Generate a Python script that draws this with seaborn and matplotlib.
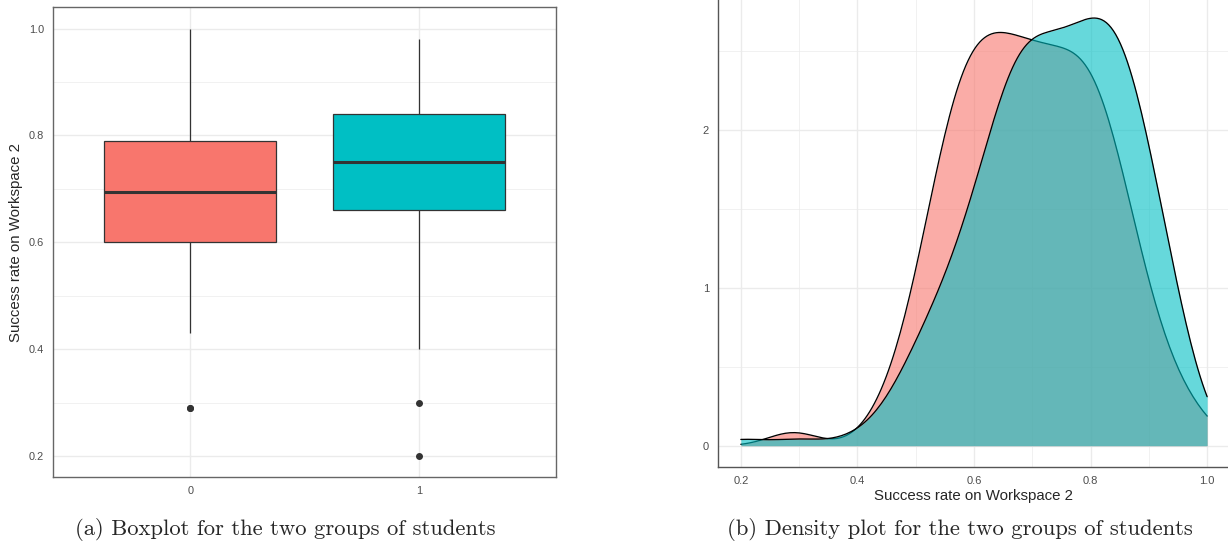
import numpy as np
import pandas as pd
import matplotlib
matplotlib.use("Agg")
import matplotlib.pyplot as plt
import seaborn as sns

# Success rate on Workspace 2, as a frequency table:
# one entry per observed score, with the number of students per group.
scores = [0.20, 0.29, 0.30,
          0.40, 0.41, 0.42, 0.43, 0.44, 0.45, 0.46, 0.47, 0.48, 0.49,
          0.50, 0.51, 0.52, 0.53, 0.54, 0.55, 0.56, 0.57, 0.58, 0.59,
          0.60, 0.61, 0.62, 0.63, 0.64, 0.65, 0.66, 0.67, 0.68, 0.69,
          0.70, 0.71, 0.72, 0.73, 0.74, 0.75, 0.76, 0.77, 0.78, 0.79,
          0.80, 0.81, 0.82, 0.83, 0.84, 0.85, 0.86, 0.87, 0.88, 0.89,
          0.90, 0.91, 0.92, 0.93, 0.94, 0.95, 0.96, 0.97, 0.98, 0.99,
          1.00]
count_0 = [0, 2, 0,
           0, 0, 0, 1, 0, 1, 1, 1, 1, 2,
           2, 3, 3, 4, 4, 5, 5, 6, 6, 6,
           6, 6, 6, 6, 6, 6, 6, 6, 5, 6,
           6, 6, 5, 6, 6, 5, 6, 5, 6, 6,
           6, 6, 5, 6, 4, 4, 4, 3, 3, 3,
           2, 1, 2, 1, 1, 1, 1, 0, 1, 0,
           1]
count_1 = [1, 0, 1,
           1, 0, 0, 0, 1, 0, 1, 1, 1, 2,
           1, 2, 2, 3, 2, 2, 3, 3, 3, 3,
           5, 4, 5, 5, 4, 4, 10, 6, 7, 7,
           6, 6, 7, 6, 6, 7, 6, 7, 6, 7,
           7, 6, 7, 7, 8, 7, 7, 7, 5, 5,
           5, 5, 3, 4, 2, 3, 2, 1, 1, 0,
           0]
groups = ["0", "1"]
colors = ["#F8766D", "#00BFC4"]
label = "Success rate on Workspace 2"

rate = np.concatenate([np.repeat(scores, count_0), np.repeat(scores, count_1)])
group = [groups[0]] * sum(count_0) + [groups[1]] * sum(count_1)
df = pd.DataFrame({"group": group, "rate": rate})

sns.set_style("white")
plt.rcParams["font.family"] = ["Liberation Sans", "DejaVu Sans"]

fig = plt.figure(figsize=(12.28, 5.42), dpi=100)
ax1 = fig.add_axes([0.0432, 0.1194, 0.4096, 0.8672])
ax2 = fig.add_axes([0.5843, 0.1378, 0.4177, 0.8747])

# (a) boxplot
sns.boxplot(data=df, x="group", y="rate", hue="group", order=groups,
            hue_order=groups, palette=colors, saturation=1, width=0.75,
            linecolor="#333333", linewidth=0.9, legend=False,
            medianprops={"linewidth": 2.2, "color": "#333333"},
            capprops={"visible": False},
            flierprops={"marker": "o", "markerfacecolor": "#333333",
                        "markeredgecolor": "#333333", "markersize": 4},
            ax=ax1)
ax1.set_xlim(-0.6, 1.6)
ax1.set_ylim(0.16, 1.04)
ax1.set_yticks([0.2, 0.4, 0.6, 0.8, 1.0])
ax1.set_yticks([0.3, 0.5, 0.7, 0.9], minor=True)
ax1.set_yticklabels(["0.2", "0.4", "0.6", "0.8", "1.0"])
ax1.set_xlabel("")
ax1.set_ylabel(label, fontsize=10.8)
ax1.yaxis.set_label_coords(-0.059, 0.5)
for side in ax1.spines.values():
    side.set_color("#666666")
    side.set_linewidth(1.0)
ax1.tick_params(which="major", length=3.5, width=0.8, color="#333333",
                labelsize=7.9, labelcolor="#4D4D4D", pad=3)
ax1.tick_params(which="minor", length=0)
ax1.set_axisbelow(True)
ax1.grid(which="major", color="#EBEBEB", linewidth=1.0)
ax1.grid(which="minor", axis="y", color="#EBEBEB", linewidth=0.5)

# (b) density plot, group by group so the second one covers the first
for i, (g, c) in enumerate(zip(groups, colors)):
    sub = df[df["group"] == g]
    sns.kdeplot(data=sub, x="rate", fill=True, color=c, alpha=0.6,
                linewidth=0, cut=3, clip=(0.2, 1.0), zorder=2 + 2 * i, ax=ax2)
    sns.kdeplot(data=sub, x="rate", color="black", linewidth=0.95,
                cut=3, clip=(0.2, 1.0), zorder=3 + 2 * i, ax=ax2)

ax2.set_xlim(0.16, 1.04)
ax2.set_ylim(-0.1365, 2.866)
ax2.set_xticks([0.2, 0.4, 0.6, 0.8, 1.0])
ax2.set_xticks([0.3, 0.5, 0.7, 0.9], minor=True)
ax2.set_xticklabels(["0.2", "0.4", "0.6", "0.8", "1.0"])
ax2.set_yticks([0, 1, 2])
ax2.set_yticks([0.5, 1.5, 2.5], minor=True)
ax2.set_xlabel(label, fontsize=10.8)
ax2.xaxis.set_label_coords(0.5, -0.046)
ax2.set_ylabel("")
sns.despine(ax=ax2)
for side in ["left", "bottom"]:
    ax2.spines[side].set_color("#555555")
    ax2.spines[side].set_linewidth(1.0)
ax2.tick_params(which="major", length=4.2, width=0.8, color="#555555",
                labelsize=8.0, labelcolor="#4D4D4D", pad=2)
ax2.tick_params(which="minor", length=0)
ax2.set_axisbelow(True)
ax2.grid(which="major", color="#EBEBEB", linewidth=1.0)
ax2.grid(which="minor", color="#EBEBEB", linewidth=0.5)

fig.text(285 / 1228, 1 - 535 / 542, "(a) Boxplot for the two groups of students",
         ha="center", va="baseline", fontfamily="cmr10", fontsize=16.3)
fig.text(959.5 / 1228, 1 - 535 / 542, "(b) Density plot for the two groups of students",
         ha="center", va="baseline", fontfamily="cmr10", fontsize=16.3)

fig.savefig("out.png", dpi=100)
